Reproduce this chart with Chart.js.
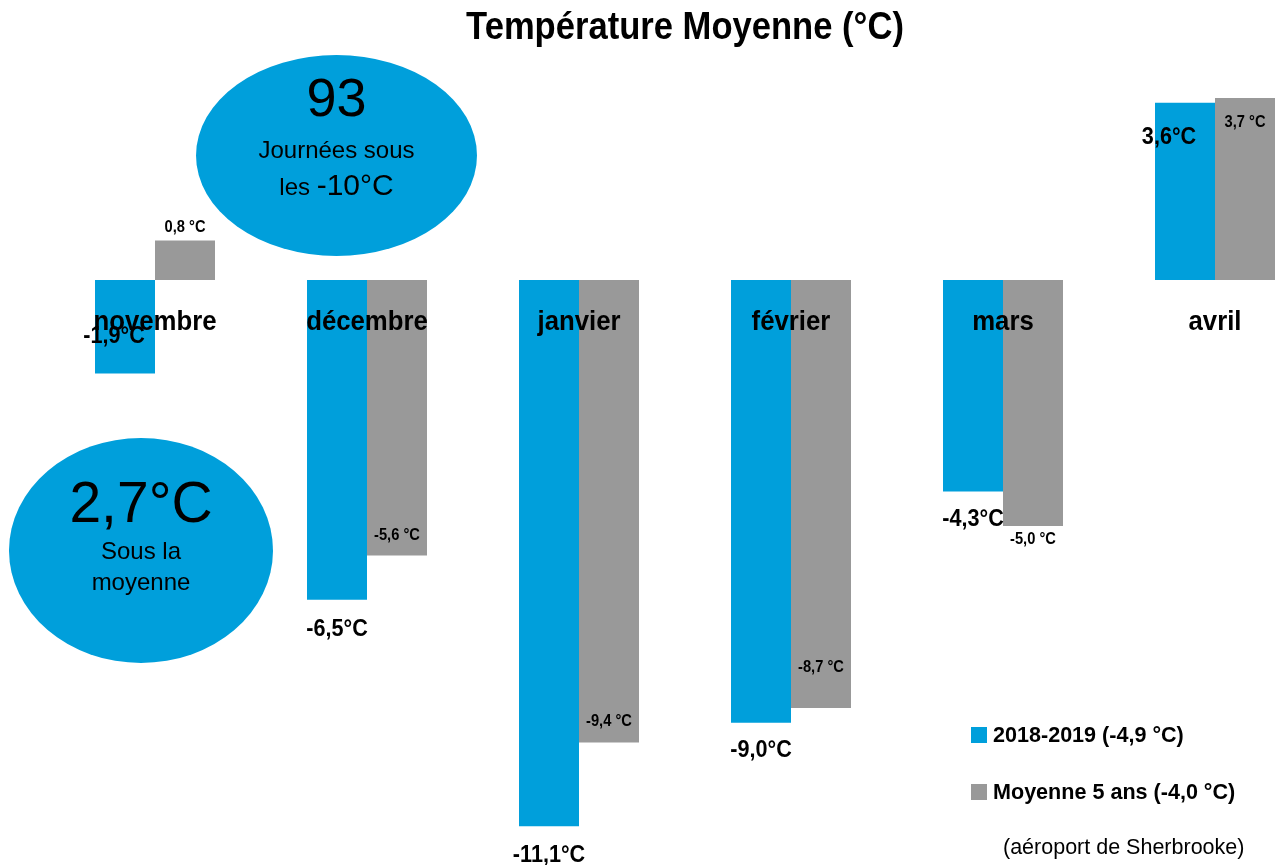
<!DOCTYPE html>
<html lang="fr">
<head>
    <meta charset="UTF-8">
    <title>Température Moyenne</title>
    <script src="https://cdn.jsdelivr.net/npm/chart.js"></script>
    <style>
        body {
            margin: 0;
            width: 1276px;
            height: 865px;
            overflow: hidden;
            background: #fff;
            position: relative;
            font-family: 'Liberation Sans', Arial, sans-serif;
        }
        #chart {
            position: absolute;
            left: 49px;
            top: 0;
        }
        .title {
            position: absolute;
            left: 685px;
            top: 7px;
            transform: translateX(-50%) scaleX(0.91);
            font-size: 38px;
            font-weight: bold;
            line-height: 1;
            white-space: nowrap;
        }
        .bubble {
            position: absolute;
            background: #009fdb;
            border-radius: 50%;
            text-align: center;
            color: #000;
            line-height: 1.3;
        }
        .bubble .big { font-size: 54px; line-height: 1; }
        .bubble .mid { font-size: 30px; }
        .legend {
            position: absolute;
            left: 971px;
            white-space: nowrap;
            line-height: 1;
        }
        .legend span.box {
            display: inline-block;
            width: 16px;
            height: 16px;
            margin-right: 6px;
            vertical-align: -1px;
        }
        .legend span.txt {
            display: inline-block;
            font-size: 22px;
            font-weight: bold;
            transform: scaleX(0.98);
            transform-origin: left center;
        }
        .note {
            position: absolute;
            left: 1003px;
            top: 837px;
            font-size: 21.5px;
            white-space: nowrap;
            line-height: 1;
        }
    </style>
</head>
<body>
    <canvas id="chart" width="1272" height="865"></canvas>

    <div class="title">Température Moyenne (°C)</div>

    <div class="bubble" style="left:196px; top:55px; width:281px; height:201px;">
        <div class="big" style="margin-top:15px;">93</div>
        <div style="font-size:24px; margin-top:10px;">Journées sous</div>
        <div style="font-size:24px;">les <span class="mid">-10°C</span></div>
    </div>

    <div class="bubble" style="left:9px; top:438px; width:264px; height:225px;">
        <div class="big" style="font-size:57px; margin-top:36px;">2,7°C</div>
        <div style="font-size:24px; margin-top:4px;">Sous la</div>
        <div style="font-size:24px;">moyenne</div>
    </div>

    <div class="legend" style="top:724px;"><span class="box" style="background:#009fdb"></span><span class="txt">2018-2019 (-4,9 °C)</span></div>
    <div class="legend" style="top:781px;"><span class="box" style="background:#999999"></span><span class="txt">Moyenne 5 ans (-4,0 °C)</span></div>
    <div class="note">(aéroport de Sherbrooke)</div>

    <script>
        const months = ["novembre", "décembre", "janvier", "février", "mars", "avril"];
        const season2018 = [-1.9, -6.5, -11.1, -9.0, -4.3, 3.6];
        const avg5years = [0.8, -5.6, -9.4, -8.7, -5.0, 3.7];

        // label nudges (px from bar end), picked to match the original layout
        const blueNudge = [-37, 30, 29, 28, 28, 35];
        const grayNudge = [-13, -20, -21, -41, 13, 25];
        const blueShiftX = [-11, 0, 0, 0, 0, -16];

        const blue = "#009fdb";
        const gray = "#999999";
        const family = "'Liberation Sans', Arial, sans-serif";

        const fmt = (v, sep) => v.toFixed(1).replace(".", ",") + sep + "°C";

        // narrow-looking text: squeeze the glyphs horizontally
        function squeezed(ctx, text, x, y, sx) {
            ctx.save();
            ctx.translate(x, y);
            ctx.scale(sx, 1);
            ctx.fillText(text, 0, 0);
            ctx.restore();
        }

        const labelsPlugin = {
            id: "barLabels",
            afterDatasetsDraw(chart) {
                const ctx = chart.ctx;
                const x = chart.scales.x;
                ctx.save();
                ctx.fillStyle = "#000";
                ctx.textAlign = "center";
                ctx.textBaseline = "middle";

                // month names across the zero line
                ctx.font = "bold 28px " + family;
                const zeroY = chart.scales.y.getPixelForValue(0);
                months.forEach((m, i) => {
                    squeezed(ctx, m, x.getPixelForValue(i), zeroY + 42, 0.92);
                });

                ctx.font = "bold 24px " + family;
                chart.getDatasetMeta(0).data.forEach((bar, i) => {
                    squeezed(ctx, fmt(season2018[i], ""), bar.x + blueShiftX[i], bar.y + blueNudge[i], 0.9);
                });

                ctx.font = "bold 16.5px " + family;
                chart.getDatasetMeta(1).data.forEach((bar, i) => {
                    squeezed(ctx, fmt(avg5years[i], " "), bar.x, bar.y + grayNudge[i], 0.89);
                });
                ctx.restore();
            }
        };

        new Chart(document.getElementById("chart"), {
            type: "bar",
            data: {
                labels: months,
                datasets: [
                    { label: "2018-2019 (-4,9 °C)", data: season2018, backgroundColor: blue },
                    { label: "Moyenne 5 ans (-4,0 °C)", data: avg5years, backgroundColor: gray }
                ]
            },
            options: {
                responsive: false,
                animation: false,
                layout: { padding: 0 },
                datasets: { bar: { categoryPercentage: 0.566, barPercentage: 1.0 } },
                scales: {
                    x: { display: false },
                    y: { display: false, min: -11.89, max: 5.69 }
                },
                plugins: {
                    legend: { display: false },
                    tooltip: { enabled: false }
                }
            },
            plugins: [labelsPlugin]
        });
    </script>
</body>
</html>
